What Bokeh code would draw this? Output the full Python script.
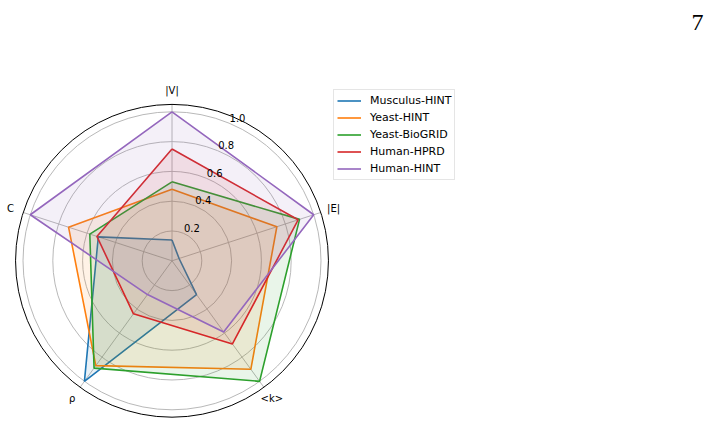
import numpy as np
from bokeh.plotting import figure
from bokeh.models import Range1d, Legend, LegendItem
from bokeh.core.properties import value
from bokeh.embed import file_html
from bokeh.resources import INLINE

# Radar axes, clockwise from the top
axes_labels = ["|V|", "|E|", "<k>", "ρ", "C"]
series_names = ["Musculus-HINT", "Yeast-HINT", "Yeast-BioGRID", "Human-HPRD", "Human-HINT"]
musculus_hint = [0.14, 0.05, 0.28, 1.00, 0.52]
yeast_hint = [0.48, 0.74, 0.90, 0.87, 0.73]
yeast_biogrid = [0.53, 0.90, 1.00, 0.89, 0.58]
human_hprd = [0.75, 0.89, 0.69, 0.44, 0.53]
human_hint = [1.00, 1.00, 0.59, 0.28, 1.00]
ring_ticks = [0.2, 0.4, 0.6, 0.8, 1.0]
ring_tick_labels = ["0.2", "0.4", "0.6", "0.8", "1.0"]
page_number = "7"

series_values = [musculus_hint, yeast_hint, yeast_biogrid, human_hprd, human_hint]
colors = ["#1f77b4", "#ff7f0e", "#2ca02c", "#d62728", "#9467bd"]

W, H = 704, 425
CX, CY = 171.5, 260.3     # centre of the polar area (px)
K = 149.0                 # px per unit radius
RMAX = 1.05
FONT = "DejaVu Sans"

p = figure(width=W, height=H, output_backend="svg", toolbar_location=None,
           x_range=Range1d(0, W), y_range=Range1d(H, 0), min_border=0)
p.axis.visible = False
p.grid.visible = False
p.outline_line_color = None
p.background_fill_color = "white"

angles = np.deg2rad(90 - 72 * np.arange(len(axes_labels)))


def to_xy(r, th):
    return CX + K * np.asarray(r) * np.cos(th), CY - K * np.asarray(r) * np.sin(th)


# rings and spokes
for t in ring_ticks:
    p.circle(CX, CY, radius=K * t, fill_color=None, line_color="#b0b0b0", line_width=0.9)
sx, sy = to_xy(RMAX, angles)
p.segment(x0=[CX] * len(angles), y0=[CY] * len(angles), x1=sx, y1=sy,
          line_color="#b0b0b0", line_width=0.9)
p.circle(CX, CY, radius=K * RMAX, fill_color=None, line_color="black", line_width=1.0)

# series polygons
legend_items = []
for name, vals, col in zip(series_names, series_values, colors):
    x, y = to_xy(vals, angles)
    p.patch(x, y, fill_color=col, fill_alpha=0.1, line_color=None)
    xc = np.append(x, x[0])
    yc = np.append(y, y[0])
    r = p.line(xc, yc, line_color=col, line_width=1.6)
    legend_items.append(LegendItem(label=name, renderers=[r]))

# radial tick labels
lab_th = np.deg2rad(67.5)
tx, ty = to_xy(ring_ticks, lab_th)
p.text(tx + 8.5, ty - 5.5, text=ring_tick_labels, text_align="center", text_baseline="middle",
       text_font=value(FONT), text_font_size="10px", text_color="black")

# axis labels
lx, ly = to_xy(1.14, angles)
p.text(lx, ly, text=axes_labels, text_align="center", text_baseline="middle",
       text_font=value(FONT), text_font_size="10px", text_color="black")

# page number
p.text([703], [22], text=[page_number], text_align="right", text_baseline="alphabetic",
       text_font=value("Liberation Serif"), text_font_size="24px", text_color="black")

legend = Legend(items=legend_items, location=(333, H - 180),
                label_text_font=FONT, label_text_font_size="11px", label_text_color="black",
                glyph_width=24, glyph_height=15, label_height=15, spacing=2,
                padding=3, margin=0, label_standoff=9,
                border_line_color="#cccccc", border_line_width=1,
                background_fill_alpha=0.8)
p.add_layout(legend)

open("out.html", "w").write(file_html(p, INLINE))
